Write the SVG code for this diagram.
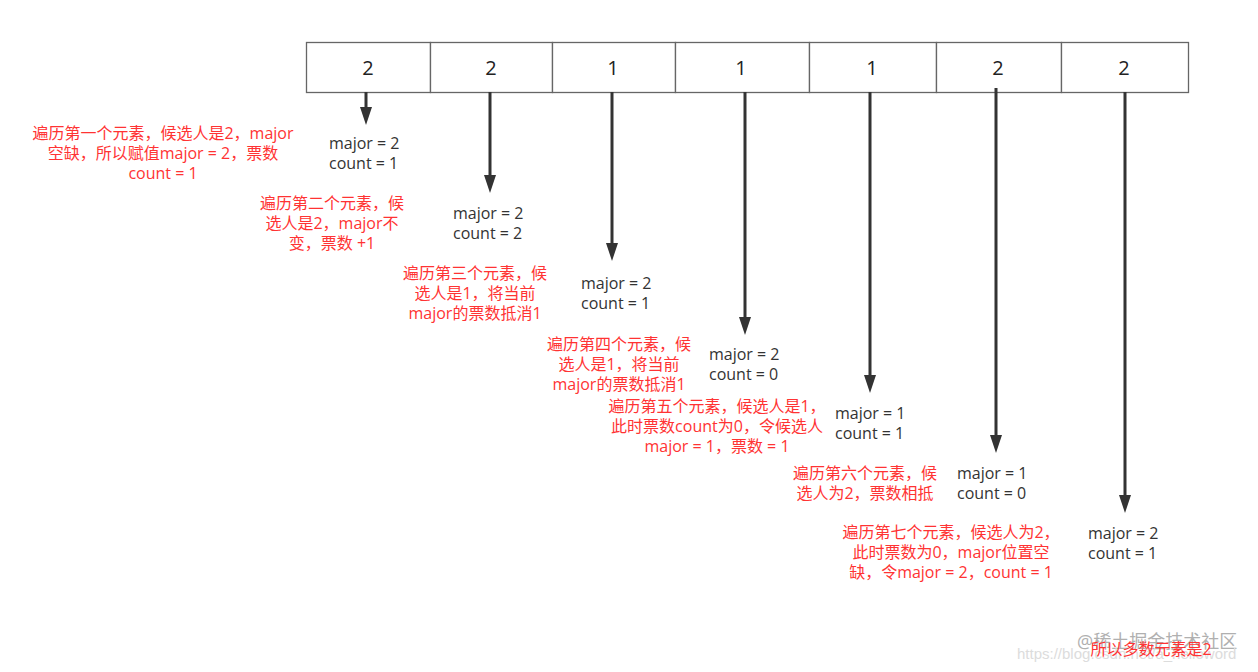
<svg xmlns="http://www.w3.org/2000/svg" width="1258" height="672" viewBox="0 0 1258 672">
<defs>
<style>
text{font-family:"Open Sans","Noto Sans CJK SC",sans-serif;font-size:16px}
.cell{fill:#fff;stroke:#666;stroke-width:1.3}
.num{font-size:20px;fill:#222;text-anchor:middle}
.blk{fill:#333}
.red{fill:#ff3333;text-anchor:middle}
.arr{stroke:#333;stroke-width:3;fill:none}
.head{fill:#333}
</style>
</defs>
<rect width="1258" height="672" fill="#fff"/>
<g id="array">
<rect class="cell" x="306.5" y="42.5" width="124" height="50"/>
<rect class="cell" x="430.5" y="42.5" width="122" height="50"/>
<rect class="cell" x="552.5" y="42.5" width="123" height="50"/>
<rect class="cell" x="675.5" y="42.5" width="134" height="50"/>
<rect class="cell" x="809.5" y="42.5" width="127" height="50"/>
<rect class="cell" x="936.5" y="42.5" width="125" height="50"/>
<rect class="cell" x="1061.5" y="42.5" width="127" height="50"/>
<text class="num" x="368" y="75">2</text>
<text class="num" x="491" y="75">2</text>
<text class="num" x="613" y="75">1</text>
<text class="num" x="741" y="75">1</text>
<text class="num" x="872" y="75">1</text>
<text class="num" x="998" y="75">2</text>
<text class="num" x="1124" y="75">2</text>
</g>
<g id="connectors">
<path class="arr" d="M366,92 V108"/><path class="head" d="M360,107 L366,125 L372,107 Z"/>
<path class="arr" d="M490,92 V176"/><path class="head" d="M484,175 L490,193 L496,175 Z"/>
<path class="arr" d="M612,92 V244"/><path class="head" d="M606,243 L612,261 L618,243 Z"/>
<path class="arr" d="M745,92 V318"/><path class="head" d="M739,317 L745,335 L751,317 Z"/>
<path class="arr" d="M870,92 V376"/><path class="head" d="M864,375 L870,393 L876,375 Z"/>
<path class="arr" d="M996,88 V436"/><path class="head" d="M990,435 L996,453 L1002,435 Z"/>
<path class="arr" d="M1125,92 V496"/><path class="head" d="M1119,495 L1125,513 L1131,495 Z"/>
</g>
<g id="state1"><text class="blk" x="329" y="149">major = 2</text><text class="blk" x="329" y="169">count = 1</text></g>
<g id="state2"><text class="blk" x="453" y="219">major = 2</text><text class="blk" x="453" y="239">count = 2</text></g>
<g id="state3"><text class="blk" x="581" y="289">major = 2</text><text class="blk" x="581" y="309">count = 1</text></g>
<g id="state4"><text class="blk" x="709" y="360">major = 2</text><text class="blk" x="709" y="380">count = 0</text></g>
<g id="state5"><text class="blk" x="835" y="419">major = 1</text><text class="blk" x="835" y="439">count = 1</text></g>
<g id="state6"><text class="blk" x="957" y="479">major = 1</text><text class="blk" x="957" y="499">count = 0</text></g>
<g id="state7"><text class="blk" x="1088" y="539">major = 2</text><text class="blk" x="1088" y="559">count = 1</text></g>
<g id="note1"><text class="red" x="163" y="139">遍历第一个元素，候选人是2，major</text><text class="red" x="163" y="159">空缺，所以赋值major = 2，票数</text><text class="red" x="163" y="179">count = 1</text></g>
<g id="note2"><text class="red" x="332" y="209">遍历第二个元素，候</text><text class="red" x="332" y="229">选人是2，major不</text><text class="red" x="332" y="249">变，票数 +1</text></g>
<g id="note3"><text class="red" x="475" y="279">遍历第三个元素，候</text><text class="red" x="475" y="299">选人是1，将当前</text><text class="red" x="475" y="319">major的票数抵消1</text></g>
<g id="note4"><text class="red" x="619" y="350">遍历第四个元素，候</text><text class="red" x="619" y="370">选人是1，将当前</text><text class="red" x="619" y="390">major的票数抵消1</text></g>
<g id="note5"><text class="red" x="717" y="412">遍历第五个元素，候选人是1，</text><text class="red" x="717" y="432">此时票数count为0，令候选人</text><text class="red" x="717" y="452">major = 1，票数 = 1</text></g>
<g id="note6"><text class="red" x="865" y="479">遍历第六个元素，候</text><text class="red" x="865" y="499">选人为2，票数相抵</text></g>
<g id="note7"><text class="red" x="951" y="538">遍历第七个元素，候选人为2，</text><text class="red" x="951" y="558">此时票数为0，major位置空</text><text class="red" x="951" y="578">缺，令major = 2，count = 1</text></g>
<g id="watermark"><text x="1077" y="648" style="font-size:18px;fill:#b0b0b0">@稀土掘金技术社区</text><text x="1017" y="659" style="font-family:'Liberation Sans',sans-serif;font-size:15px;fill:#dcdcdc">https://blog.csdn.net/a_helloword</text></g>
<g id="result"><text class="red" x="1151" y="655">所以多数元素是2</text></g>
</svg>
